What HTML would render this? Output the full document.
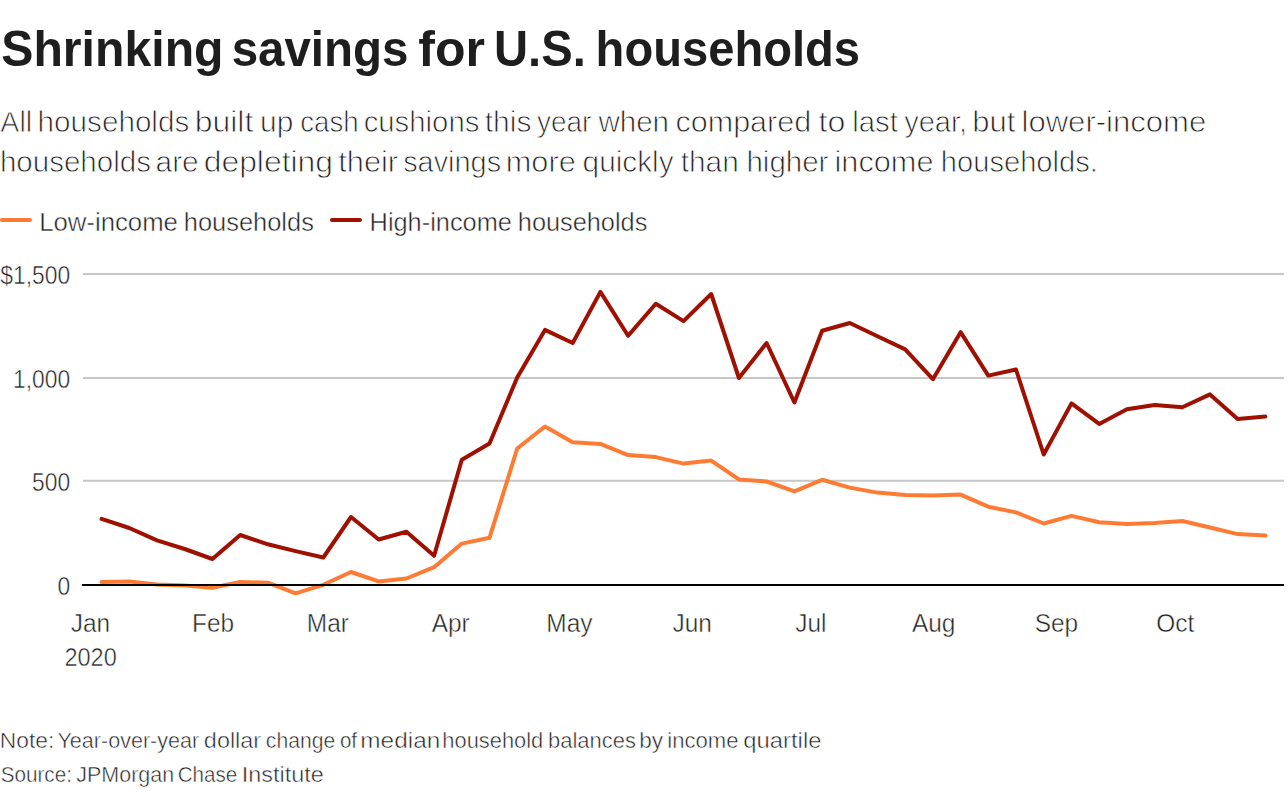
<!DOCTYPE html>
<html><head><meta charset="utf-8"><style>
html,body{margin:0;padding:0;background:#fff;width:1288px;height:800px;overflow:hidden}
svg{display:block;font-family:"Liberation Sans",sans-serif}
</style></head><body>
<svg width="1288" height="800" viewBox="0 0 1288 800">
<rect width="1288" height="800" fill="#fff"/>
<text transform="translate(1.25,66.2) scale(0.9643,1)" font-size="50" font-weight="bold" fill="#1e1e1e">Shrinking</text>
<text transform="translate(231.64,66.2) scale(0.9496,1)" font-size="50" font-weight="bold" fill="#1e1e1e">savings</text>
<text transform="translate(418.25,66.2) scale(1.0008,1)" font-size="50" font-weight="bold" fill="#1e1e1e">for</text>
<text transform="translate(494.07,66.2) scale(0.9433,1)" font-size="50" font-weight="bold" fill="#1e1e1e">U.S.</text>
<text transform="translate(595.60,66.2) scale(0.9429,1)" font-size="50" font-weight="bold" fill="#1e1e1e">households</text>
<text transform="translate(0.36,131.8) scale(0.9394,1)" font-size="30.4" fill="#222222" stroke="#fff" stroke-width="0.85">All</text>
<text transform="translate(37.62,131.8) scale(0.9757,1)" font-size="30.4" fill="#222222" stroke="#fff" stroke-width="0.85">households</text>
<text transform="translate(194.72,131.8) scale(1.0504,1)" font-size="30.4" fill="#222222" stroke="#fff" stroke-width="0.85">built</text>
<text transform="translate(260.05,131.8) scale(0.9852,1)" font-size="30.4" fill="#222222" stroke="#fff" stroke-width="0.85">up</text>
<text transform="translate(300.29,131.8) scale(0.9099,1)" font-size="30.4" fill="#222222" stroke="#fff" stroke-width="0.85">cash</text>
<text transform="translate(363.63,131.8) scale(0.9647,1)" font-size="30.4" fill="#222222" stroke="#fff" stroke-width="0.85">cushions</text>
<text transform="translate(484.75,131.8) scale(0.9857,1)" font-size="30.4" fill="#222222" stroke="#fff" stroke-width="0.85">this</text>
<text transform="translate(537.06,131.8) scale(0.9193,1)" font-size="30.4" fill="#222222" stroke="#fff" stroke-width="0.85">year</text>
<text transform="translate(598.40,131.8) scale(0.9720,1)" font-size="30.4" fill="#222222" stroke="#fff" stroke-width="0.85">when</text>
<text transform="translate(675.58,131.8) scale(1.0031,1)" font-size="30.4" fill="#222222" stroke="#fff" stroke-width="0.85">compared</text>
<text transform="translate(818.52,131.8) scale(1.0569,1)" font-size="30.4" fill="#222222" stroke="#fff" stroke-width="0.85">to</text>
<text transform="translate(852.19,131.8) scale(0.9658,1)" font-size="30.4" fill="#222222" stroke="#fff" stroke-width="0.85">last</text>
<text transform="translate(904.15,131.8) scale(0.9543,1)" font-size="30.4" fill="#222222" stroke="#fff" stroke-width="0.85">year,</text>
<text transform="translate(972.28,131.8) scale(1.0217,1)" font-size="30.4" fill="#222222" stroke="#fff" stroke-width="0.85">but</text>
<text transform="translate(1021.48,131.8) scale(1.0226,1)" font-size="30.4" fill="#222222" stroke="#fff" stroke-width="0.85">lower-income</text>
<text transform="translate(-0.07,171.6) scale(0.9711,1)" font-size="30.4" fill="#222222" stroke="#fff" stroke-width="0.85">households</text>
<text transform="translate(155.61,171.6) scale(0.9796,1)" font-size="30.4" fill="#222222" stroke="#fff" stroke-width="0.85">are</text>
<text transform="translate(203.73,171.6) scale(1.0480,1)" font-size="30.4" fill="#222222" stroke="#fff" stroke-width="0.85">depleting</text>
<text transform="translate(338.24,171.6) scale(1.0117,1)" font-size="30.4" fill="#222222" stroke="#fff" stroke-width="0.85">their</text>
<text transform="translate(403.13,171.6) scale(0.9507,1)" font-size="30.4" fill="#222222" stroke="#fff" stroke-width="0.85">savings</text>
<text transform="translate(505.81,171.6) scale(1.0096,1)" font-size="30.4" fill="#222222" stroke="#fff" stroke-width="0.85">more</text>
<text transform="translate(582.61,171.6) scale(0.9787,1)" font-size="30.4" fill="#222222" stroke="#fff" stroke-width="0.85">quickly</text>
<text transform="translate(680.75,171.6) scale(0.9807,1)" font-size="30.4" fill="#222222" stroke="#fff" stroke-width="0.85">than</text>
<text transform="translate(746.44,171.6) scale(0.9704,1)" font-size="30.4" fill="#222222" stroke="#fff" stroke-width="0.85">higher</text>
<text transform="translate(834.50,171.6) scale(1.0106,1)" font-size="30.4" fill="#222222" stroke="#fff" stroke-width="0.85">income</text>
<text transform="translate(940.86,171.6) scale(0.9579,1)" font-size="30.4" fill="#222222" stroke="#fff" stroke-width="0.85">households.</text>
<line x1="2" y1="220" x2="30" y2="220" stroke="#ff7b33" stroke-width="4" stroke-linecap="round"/>
<text transform="translate(39.14,231.0) scale(0.9793,1)" font-size="26.3" fill="#222222" stroke="#fff" stroke-width="0.5">Low-income</text>
<text transform="translate(183.82,231.0) scale(0.9669,1)" font-size="26.3" fill="#222222" stroke="#fff" stroke-width="0.5">households</text>
<line x1="332" y1="220" x2="360" y2="220" stroke="#a01000" stroke-width="4" stroke-linecap="round"/>
<text transform="translate(369.57,231.0) scale(0.9648,1)" font-size="26.3" fill="#222222" stroke="#fff" stroke-width="0.5">High-income</text>
<text transform="translate(517.83,231.0) scale(0.9631,1)" font-size="26.3" fill="#222222" stroke="#fff" stroke-width="0.5">households</text>
<g stroke="#c6c6c6" stroke-width="2">
<line x1="83" y1="274.1" x2="1284" y2="274.1"/>
<line x1="83" y1="377.9" x2="1284" y2="377.9"/>
<line x1="83" y1="480.8" x2="1284" y2="480.8"/>
</g>
<text transform="translate(70.2,283.7) scale(0.905,1)" font-size="25.25" fill="#222222" stroke="#fff" stroke-width="0.5" text-anchor="end">$1,500</text>
<text transform="translate(70.2,387.8) scale(0.905,1)" font-size="25.25" fill="#222222" stroke="#fff" stroke-width="0.5" text-anchor="end">1,000</text>
<text transform="translate(70.2,490.7) scale(0.905,1)" font-size="25.25" fill="#222222" stroke="#fff" stroke-width="0.5" text-anchor="end">500</text>
<text transform="translate(70.2,594.8) scale(0.905,1)" font-size="25.25" fill="#222222" stroke="#fff" stroke-width="0.5" text-anchor="end">0</text>
<text transform="translate(90.4,632.3) scale(0.929,1)" font-size="26.3" fill="#222222" stroke="#fff" stroke-width="0.5" text-anchor="middle">Jan</text>
<text transform="translate(213.1,632.3) scale(0.929,1)" font-size="26.3" fill="#222222" stroke="#fff" stroke-width="0.5" text-anchor="middle">Feb</text>
<text transform="translate(327.9,632.3) scale(0.929,1)" font-size="26.3" fill="#222222" stroke="#fff" stroke-width="0.5" text-anchor="middle">Mar</text>
<text transform="translate(450.7,632.3) scale(0.929,1)" font-size="26.3" fill="#222222" stroke="#fff" stroke-width="0.5" text-anchor="middle">Apr</text>
<text transform="translate(569.4,632.3) scale(0.929,1)" font-size="26.3" fill="#222222" stroke="#fff" stroke-width="0.5" text-anchor="middle">May</text>
<text transform="translate(692.2,632.3) scale(0.929,1)" font-size="26.3" fill="#222222" stroke="#fff" stroke-width="0.5" text-anchor="middle">Jun</text>
<text transform="translate(810.9,632.3) scale(0.929,1)" font-size="26.3" fill="#222222" stroke="#fff" stroke-width="0.5" text-anchor="middle">Jul</text>
<text transform="translate(933.7,632.3) scale(0.929,1)" font-size="26.3" fill="#222222" stroke="#fff" stroke-width="0.5" text-anchor="middle">Aug</text>
<text transform="translate(1056.4,632.3) scale(0.929,1)" font-size="26.3" fill="#222222" stroke="#fff" stroke-width="0.5" text-anchor="middle">Sep</text>
<text transform="translate(1175.2,632.3) scale(0.929,1)" font-size="26.3" fill="#222222" stroke="#fff" stroke-width="0.5" text-anchor="middle">Oct</text>
<text transform="translate(90.6,665.8) scale(0.938,1)" font-size="25.1" font-weight="normal" fill="#222222" text-anchor="middle" stroke="#fff" stroke-width="0.5">2020</text>
<polyline points="101.6,518.9 129.3,528.0 157.0,540.4 184.7,549.0 212.4,559.0 240.2,535.0 267.9,544.3 295.6,551.1 323.3,557.5 351.0,517.0 378.7,539.5 406.4,531.8 434.1,555.8 461.8,459.7 489.5,443.6 517.2,377.4 545.0,329.9 572.7,343.0 600.4,291.9 628.1,335.8 655.8,303.7 683.5,321.1 711.2,294.0 738.9,378.0 766.6,343.0 794.4,402.5 822.1,330.8 849.8,323.0 877.5,336.2 905.2,349.4 932.9,379.2 960.6,332.2 988.3,375.6 1016.0,369.5 1043.7,454.5 1071.5,403.4 1099.2,423.9 1126.9,409.3 1154.6,405.0 1182.3,407.3 1210.0,394.4 1237.7,418.9 1265.4,416.6" fill="none" stroke="#a01000" stroke-width="4" stroke-linejoin="round" stroke-linecap="round"/>
<polyline points="101.6,582.0 129.3,581.5 157.0,584.6 184.7,585.4 212.4,587.7 240.2,582.0 267.9,582.7 295.6,593.3 323.3,584.8 351.0,572.0 378.7,581.4 406.4,578.5 434.1,567.2 461.8,543.6 489.5,537.8 517.2,448.5 545.0,426.5 572.7,442.2 600.4,443.9 628.1,455.1 655.8,457.1 683.5,463.6 711.2,460.6 738.9,479.4 766.6,481.5 794.4,491.4 822.1,479.8 849.8,487.6 877.5,492.6 905.2,495.0 932.9,495.4 960.6,494.6 988.3,506.7 1016.0,512.4 1043.7,523.5 1071.5,515.9 1099.2,522.3 1126.9,523.9 1154.6,523.1 1182.3,521.0 1210.0,527.5 1237.7,534.1 1265.4,535.6" fill="none" stroke="#ff7b33" stroke-width="4" stroke-linejoin="round" stroke-linecap="round"/>
<line x1="82" y1="584.9" x2="1284" y2="584.9" stroke="#000" stroke-width="2"/>
<text transform="translate(-0.22,747.7) scale(1.0504,1)" font-size="21.7" fill="#222222" stroke="#fff" stroke-width="0.5">Note:</text>
<text transform="translate(57.46,747.7) scale(0.9936,1)" font-size="21.7" fill="#222222" stroke="#fff" stroke-width="0.5">Year-over-year</text>
<text transform="translate(203.86,747.7) scale(1.0798,1)" font-size="21.7" fill="#222222" stroke="#fff" stroke-width="0.5">dollar</text>
<text transform="translate(265.85,747.7) scale(0.9736,1)" font-size="21.7" fill="#222222" stroke="#fff" stroke-width="0.5">change</text>
<text transform="translate(339.88,747.7) scale(0.9448,1)" font-size="21.7" fill="#222222" stroke="#fff" stroke-width="0.5">of</text>
<text transform="translate(360.32,747.7) scale(1.1235,1)" font-size="21.7" fill="#222222" stroke="#fff" stroke-width="0.5">median</text>
<text transform="translate(442.37,747.7) scale(1.0081,1)" font-size="21.7" fill="#222222" stroke="#fff" stroke-width="0.5">household</text>
<text transform="translate(547.97,747.7) scale(1.0126,1)" font-size="21.7" fill="#222222" stroke="#fff" stroke-width="0.5">balances</text>
<text transform="translate(639.23,747.7) scale(1.0427,1)" font-size="21.7" fill="#222222" stroke="#fff" stroke-width="0.5">by</text>
<text transform="translate(667.26,747.7) scale(1.0193,1)" font-size="21.7" fill="#222222" stroke="#fff" stroke-width="0.5">income</text>
<text transform="translate(743.35,747.7) scale(1.0976,1)" font-size="21.7" fill="#222222" stroke="#fff" stroke-width="0.5">quartile</text>
<text transform="translate(0.67,781.5) scale(0.9537,1)" font-size="21.7" fill="#222222" stroke="#fff" stroke-width="0.5">Source:</text>
<text transform="translate(76.28,781.5) scale(0.9895,1)" font-size="21.7" fill="#222222" stroke="#fff" stroke-width="0.5">JPMorgan</text>
<text transform="translate(177.67,781.5) scale(0.9513,1)" font-size="21.7" fill="#222222" stroke="#fff" stroke-width="0.5">Chase</text>
<text transform="translate(241.79,781.5) scale(1.0789,1)" font-size="21.7" fill="#222222" stroke="#fff" stroke-width="0.5">Institute</text>
</svg>
</body></html>
